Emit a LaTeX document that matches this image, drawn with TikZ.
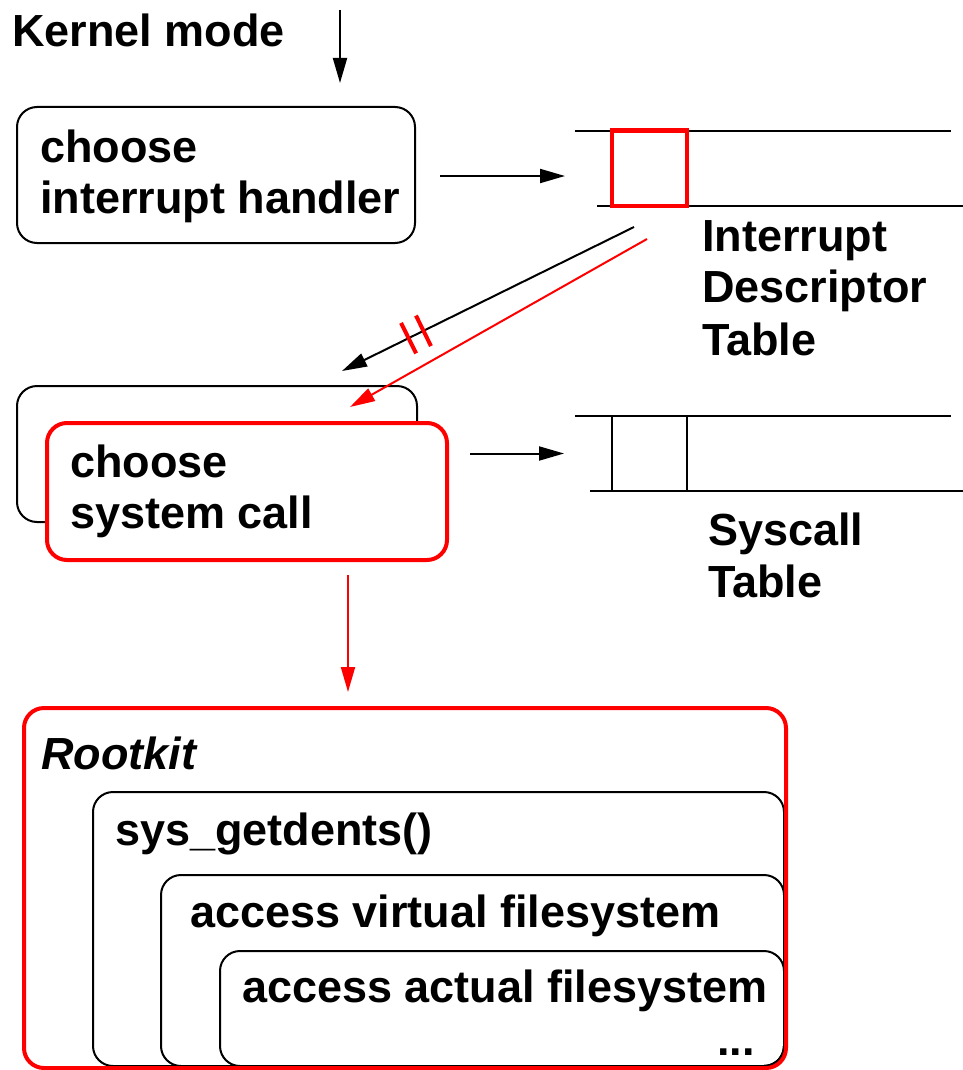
\documentclass[tikz,border=0pt]{standalone}
\usepackage{fontspec}
\setmainfont{Liberation Sans}
\usetikzlibrary{arrows.meta,calc}
\begin{document}
\begin{tikzpicture}[x=1pt,y=-1pt,
  txt/.style={font=\fontsize{45}{51}\selectfont\bfseries, anchor=base west, inner sep=0pt},
  bbox/.style={draw=black, line width=2pt, rounded corners=20pt, inner sep=0pt, outer sep=0pt},
  rbox/.style={draw=red, line width=4pt, rounded corners=20pt, inner sep=0pt, outer sep=0pt},
  arr/.style={draw=black, line width=2pt, -{Triangle[length=25pt,width=14pt]}},
  rarr/.style={draw=red, line width=2pt, -{Triangle[length=25pt,width=14pt]}},
  tline/.style={draw=black, line width=2.5pt},
  redmark/.style={draw=red, line width=4pt}]
\useasboundingbox (0,0) rectangle (963,1070);

% Kernel mode
\node[txt] (km) at (12,47) {Kernel mode};
\coordinate (k0) at (340,10);
\draw[arr] (k0) -- ($(k0)+(0,73)$);

% choose interrupt handler box
\node[bbox, minimum width=398pt, minimum height=136pt] (ih) at (216,175) {};
\node[txt] (ih1) at (40,162) {choose};
\node[txt] (ih2) at (40,213) {interrupt handler};

% Interrupt Descriptor Table
\coordinate (it0) at (575,131);
\coordinate (it1) at (951,131);
\coordinate (ib0) at (597,206);
\coordinate (ib1) at (963,206);
\draw[tline] (it0) -- (it1);
\draw[tline] (ib0) -- (ib1);
\node[rbox, rounded corners=0pt, minimum width=75pt, minimum height=75pt] (idt) at (649.5,168) {};
\node[txt] (idt1) at (702,251) {Interrupt};
\node[txt] (idt2) at (702,302) {Descriptor};
\node[txt] (idt3) at (702,355) {Table};

\draw[arr] ($(ih.east)+(25,1)$) -- ($(idt.west |- ih.east)+(-47,1)$);

% choose system call boxes
\node[bbox, minimum width=400pt, minimum height=136pt] (csb) at (217,454) {};
\node[rbox, fill=white, minimum width=400pt, minimum height=137pt] (cs) at (247,491.5) {};
\node[txt] (cs1) at (70,477) {choose};
\node[txt] (cs2) at (70,528) {system call};

% diagonal arrows
\coordinate (b0) at (634,227);
\coordinate (b1) at (342,371);
\coordinate (r0) at (647,239);
\coordinate (r1) at (350,407);
\draw[arr] (b0) -- (b1);
\draw[rarr] (r0) -- (r1);
\path (b0) -- (b1) coordinate[pos=0.772] (m1) coordinate[pos=0.721] (m2);
\draw[redmark] ($(m1)!17pt!90:(b1)$) -- ($(m1)!17pt!-90:(b1)$);
\draw[redmark] ($(m2)!17pt!90:(b1)$) -- ($(m2)!17pt!-90:(b1)$);

% Syscall Table
\coordinate (st0) at (575,416);
\coordinate (st1) at (951,416);
\coordinate (sb0) at (590,491);
\coordinate (sb1) at (963,491);
\draw[tline] (st0) -- (st1);
\draw[tline] (sb0) -- (sb1);
\node[draw=black, line width=2pt, inner sep=0pt, minimum width=75pt, minimum height=75pt] (sct) at (649.5,453.5) {};
\node[txt] (sc1) at (708,545) {Syscall};
\node[txt] (sc2) at (708,597) {Table};

\draw[arr] ($(cs.east |- sct.west)+(23,0)$) -- ($(sct.west)+(-47,0)$);

% Rootkit nested boxes
\node[bbox, minimum width=691pt, minimum height=274pt] (sys) at (438.5,929) {};
\node[bbox, minimum width=623pt, minimum height=191pt] (vfs) at (472.5,970.5) {};
\node[bbox, minimum width=564pt, minimum height=115pt] (afs) at (502,1008.5) {};
\node[rbox, minimum width=762pt, minimum height=360pt] (rk) at (405,888) {};
\node[txt, font=\fontsize{45}{51}\selectfont\bfseries\itshape] (rk1) at (41,769) {Rootkit};
\node[txt] (sys1) at (115,845) {sys\_getdents()};
\node[txt] (vfs1) at (190,927) {access virtual filesystem};
\node[txt] (afs1) at (242,1002) {access actual filesystem};
\node[txt] (dots) at (717,1055) {...};

\coordinate (d1) at (348,575);
\draw[rarr] (d1) -- ($(d1 |- rk.north)+(0,-16)$);
\end{tikzpicture}
\end{document}
